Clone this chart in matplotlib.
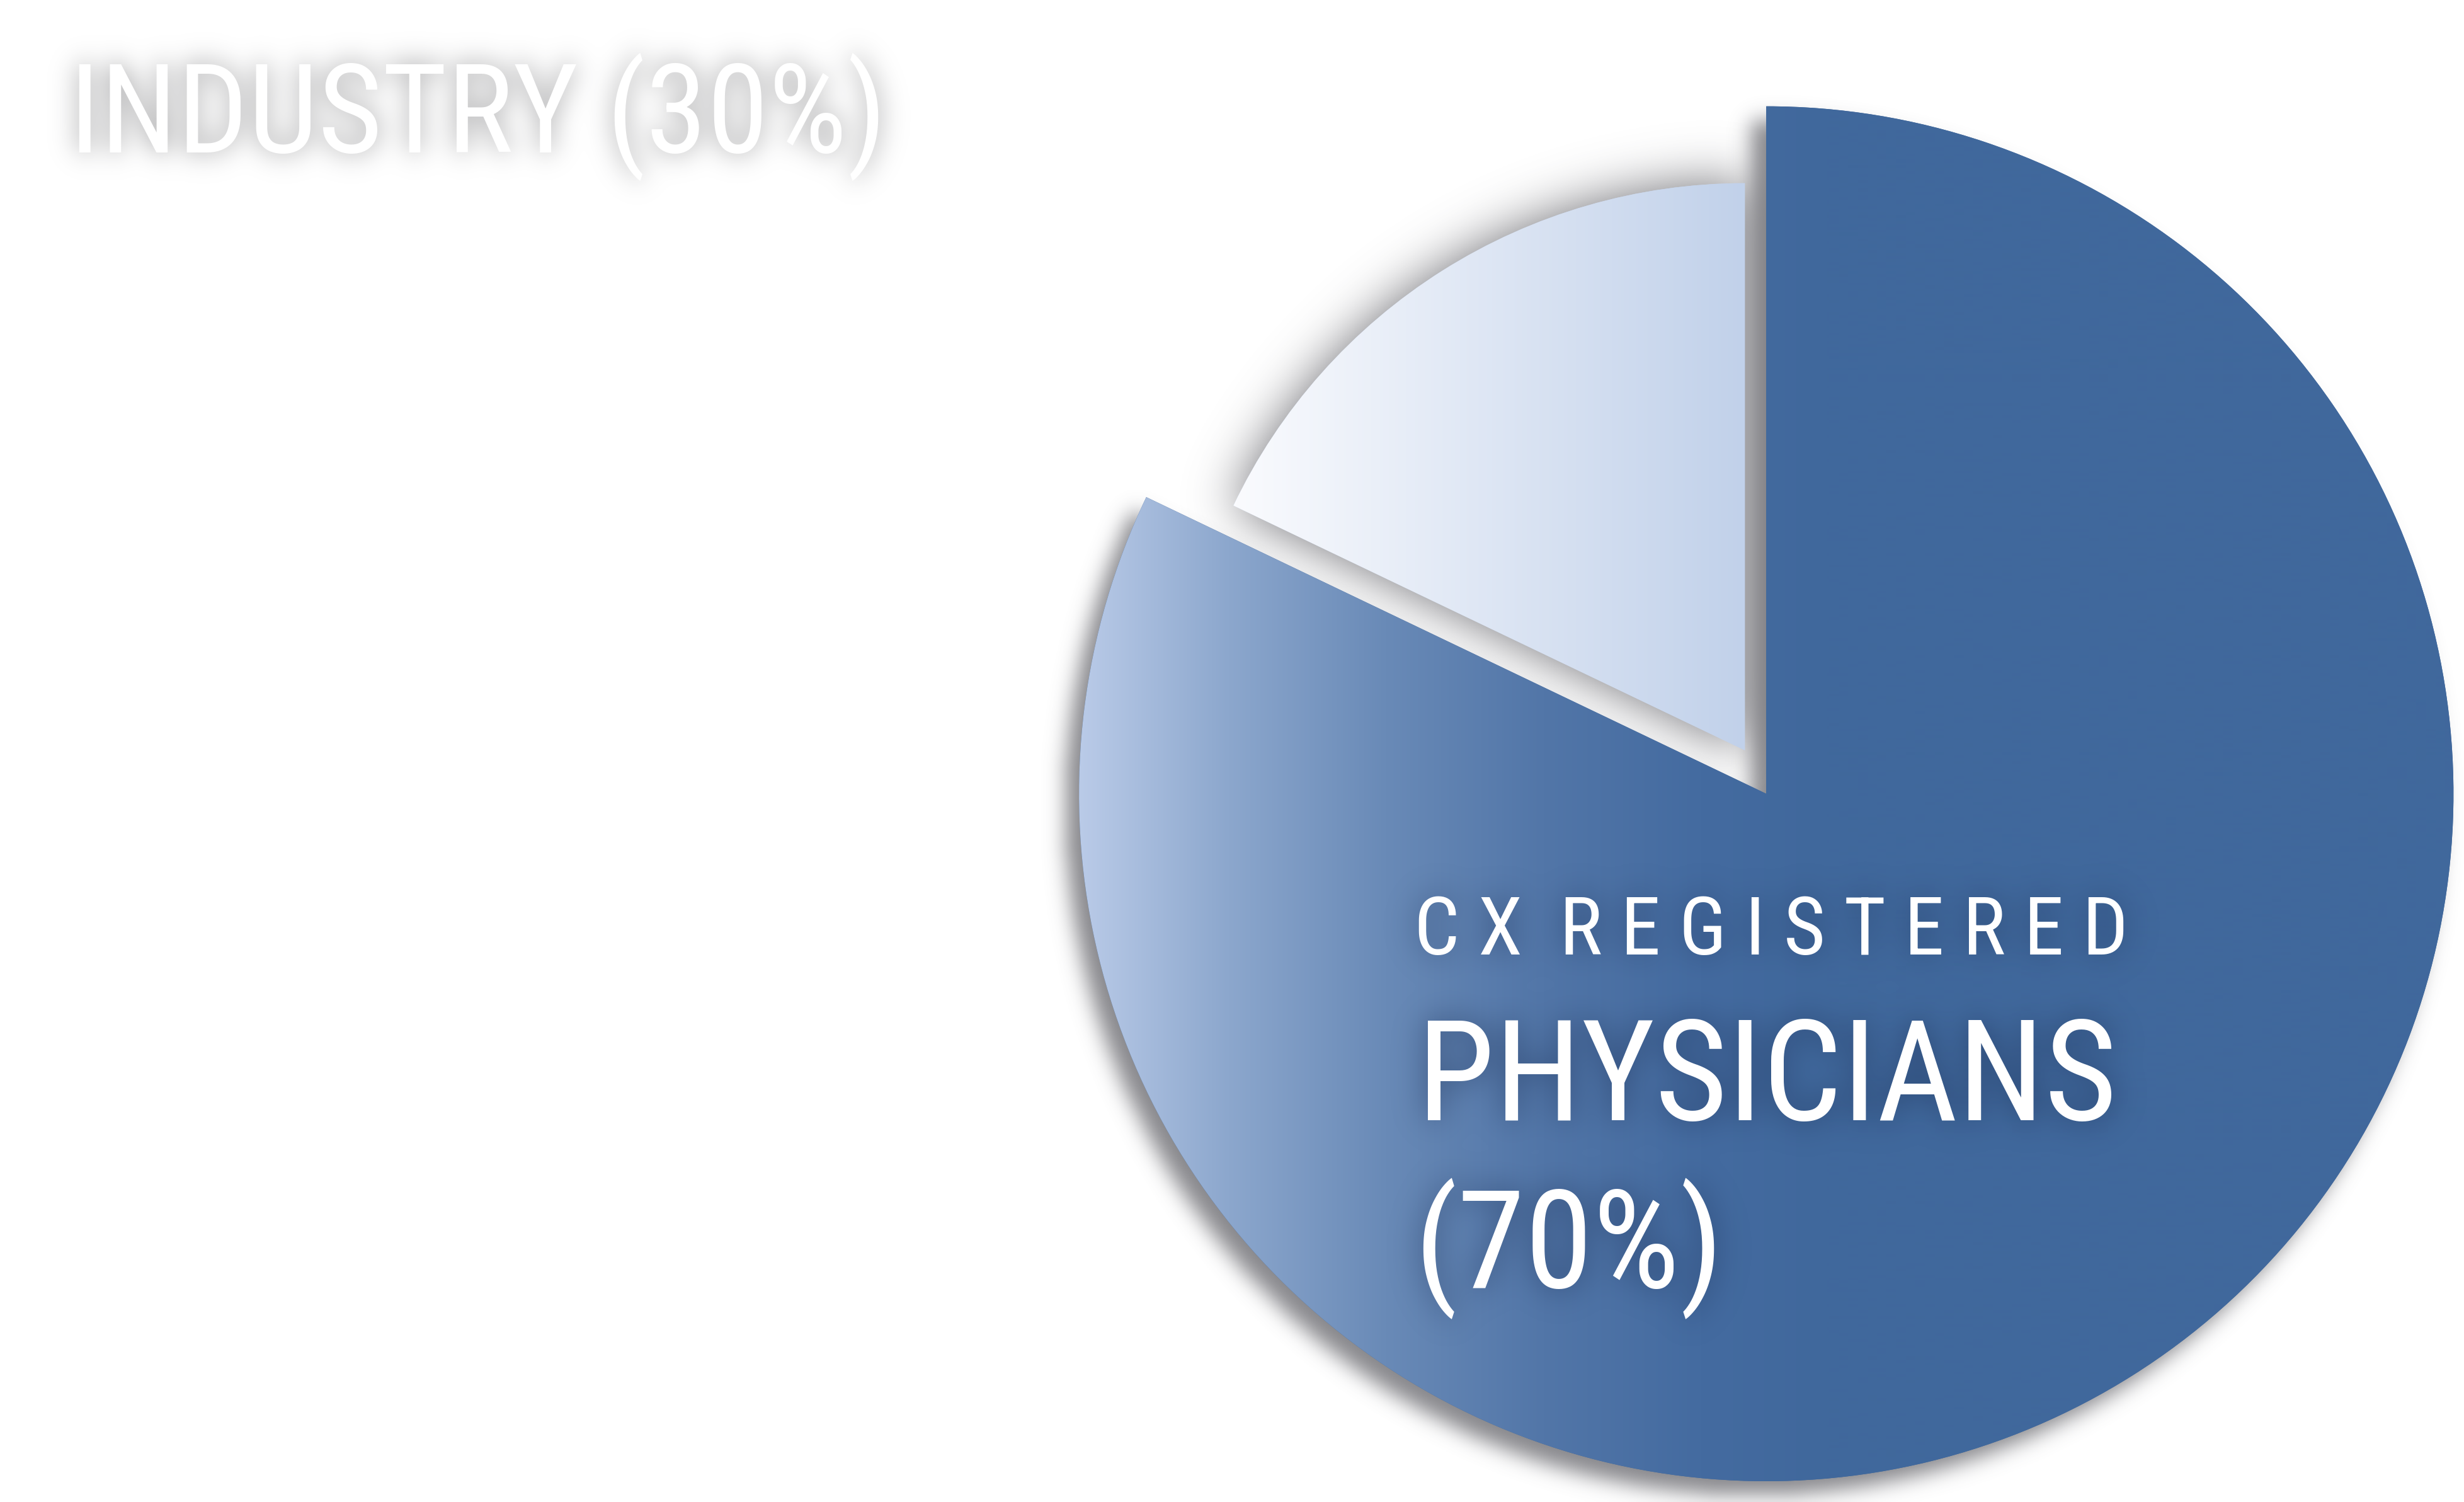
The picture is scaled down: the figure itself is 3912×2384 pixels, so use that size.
import numpy as np
import matplotlib
matplotlib.use('Agg')
import matplotlib.pyplot as plt

# ---------------- data ----------------
categories = ['CX REGISTERED PHYSICIANS', 'INDUSTRY']
label_pcts = [70, 30]
wedge_shares = [82.1, 17.9]   # angular shares as drawn in the picture

W, H, DPI = 3912, 2384, 100
FONT = ['Roboto Condensed', 'Liberation Sans', 'DejaVu Sans']

top_words = categories[0].split()
line1 = '  '.join(' '.join(w) for w in top_words[:-1])
line2 = top_words[-1]
line3 = f'({label_pcts[0]}%)'
line4 = f'{categories[1]} ({label_pcts[1]}%)'

fig = plt.figure(figsize=((W + 0.3) / DPI, (H + 0.3) / DPI), dpi=DPI)
fig.patch.set_facecolor('white')
ax = fig.add_axes([0, 0, 1, 1])

wedges, _ = ax.pie(wedge_shares, startangle=90, counterclock=False,
                   radius=1091, center=(2804, 1124),
                   colors=['#41699c', '#c6d4ea'],
                   wedgeprops=dict(linewidth=0, zorder=2))
big, small = wedges
small.set_radius(900)
small.set_center((2770, 1193))

# ---------------- helpers for soft shadows ----------------
DS = 4
gw, gh = W // DS, H // DS
gx = (np.arange(gw) + 0.5) * DS
gy = (np.arange(gh) + 0.5) * DS
GX, GY = np.meshgrid(gx, gy)
PTS = np.column_stack([GX.ravel(), GY.ravel()])


def patch_mask(p, dx=0.0, dy=0.0):
    path = p.get_patch_transform().transform_path(p.get_path())
    return path.contains_points(PTS - np.array([dx, dy])).reshape(gh, gw).astype(float)


def blur(a, sigma_px):
    s = sigma_px / DS
    r = int(3 * s) + 1
    k = np.exp(-0.5 * (np.arange(-r, r + 1) / s) ** 2)
    k /= k.sum()
    a = np.apply_along_axis(np.convolve, 0, a, k, mode='same')
    a = np.apply_along_axis(np.convolve, 1, a, k, mode='same')
    return a


def draw_texts(a, color):
    kw = dict(family=FONT, color=color, ha='left', va='baseline', zorder=6)
    a.text(2245, H - 1515, line1, fontsize=92, **kw)
    a.text(2250, H - 1778, line2, fontsize=160, **kw)
    a.text(2245, H - 2044, line3, fontsize=157, **kw)
    a.text(110, H - 242, line4, fontsize=142, **kw)


def text_mask():
    f2 = plt.figure(figsize=((W + 0.3) / DPI, (H + 0.3) / DPI), dpi=DPI)
    a2 = f2.add_axes([0, 0, 1, 1])
    a2.set_xlim(0, W)
    a2.set_ylim(0, H)
    a2.axis('off')
    draw_texts(a2, 'black')
    f2.canvas.draw()
    buf = np.asarray(f2.canvas.buffer_rgba())[:, :, 0].astype(float) / 255.0
    plt.close(f2)
    m = 1.0 - buf[::-1]
    full = np.zeros((gh * DS, gw * DS))
    hh = min(full.shape[0], m.shape[0])
    ww = min(full.shape[1], m.shape[1])
    full[:hh, :ww] = m[:hh, :ww]
    return full.reshape(gh, DS, gw, DS).mean(axis=(1, 3))


def rgba_layer(alpha, rgb):
    img = np.zeros((gh, gw, 4))
    img[..., 0], img[..., 1], img[..., 2] = rgb
    img[..., 3] = np.clip(alpha, 0, 1)
    return img


def show_layer(img, z):
    return ax.imshow(img, extent=(0, W, 0, H), origin='lower', aspect='auto',
                     interpolation='bilinear', zorder=z)


# wedge shadows
big_sh = blur(patch_mask(big, -22, -22), 16) * 0.75
small_sh = blur(patch_mask(small), 40) * 0.9
show_layer(rgba_layer(big_sh, (0.38, 0.38, 0.40)), 1.0)
show_layer(rgba_layer(small_sh, (0.38, 0.38, 0.40)), 1.1)

# text glows
tm = text_mask()
ind_glow = np.clip(blur(tm * (GX < 1700), 20) * 1.8, 0, 1) * 0.5
show_layer(rgba_layer(ind_glow, (0.55, 0.55, 0.56)), 1.2)
wt_glow = np.clip(blur(tm * (GX >= 1700), 24) * 1.6, 0, 1) * 0.45
show_layer(rgba_layer(wt_glow, (0.12, 0.20, 0.35)), 5)

# gradient fills clipped to the pie wedges
xs = np.arange(W) + 0.5


def hgrad(stops_x, stops_rgb):
    c = np.array(stops_rgb, dtype=float) / 255.0
    row = np.stack([np.interp(xs, stops_x, c[:, i]) for i in range(3)], axis=-1)
    return np.repeat(row[None], 2, axis=0)


g_big = hgrad([1714, 1950, 2200, 2450, 2700, 2900],
              [(186, 203, 232), (140, 167, 205), (105, 138, 183),
               (82, 118, 168), (68, 107, 160), (64, 104, 156)])
im1 = ax.imshow(g_big, extent=(0, W, 0, H), origin='lower', aspect='auto', zorder=3)
im1.set_clip_path(big)
g_small = hgrad([1964, 2770], [(250, 251, 254), (193, 209, 234)])
im2 = ax.imshow(g_small, extent=(0, W, 0, H), origin='lower', aspect='auto', zorder=4)
im2.set_clip_path(small)

draw_texts(ax, 'white')

ax.set_xlim(0, W)
ax.set_ylim(0, H)
ax.set_aspect('auto')
ax.axis('off')
fig.savefig('out.png', dpi=DPI, facecolor='white')
